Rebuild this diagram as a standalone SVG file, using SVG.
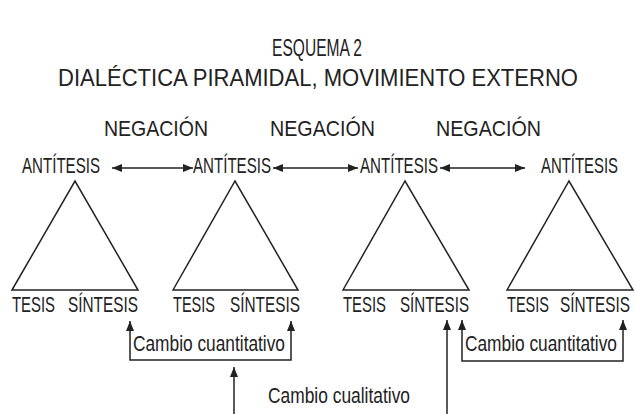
<svg xmlns="http://www.w3.org/2000/svg" width="635" height="414" viewBox="0 0 635 414">
<style>
text{font-family:"Liberation Sans",Arial,sans-serif;fill:#222;font-size:22px}
.t{font-size:24px}
.tri{fill:none;stroke:#222;stroke-width:1.5}
.c{fill:none;stroke:#222;stroke-width:1.5}
</style>
<defs>
<marker id="ah" viewBox="0 0 10 8" refX="10" refY="4" markerWidth="10" markerHeight="8" markerUnits="userSpaceOnUse" orient="auto-start-reverse">
<path d="M0,0 L10,4 L0,8 z" fill="#222"/>
</marker>
</defs>
<rect width="635" height="414" fill="#fff"/>
<g id="title">
<text class="t" x="317" y="56" text-anchor="middle" textLength="90" lengthAdjust="spacingAndGlyphs">ESQUEMA 2</text>
<text class="t" x="318" y="86" text-anchor="middle" textLength="520" lengthAdjust="spacingAndGlyphs">DIALÉCTICA PIRAMIDAL, MOVIMIENTO EXTERNO</text>
</g>
<g id="negaciones">
<text x="104" y="136" textLength="104" lengthAdjust="spacingAndGlyphs">NEGACIÓN</text>
<text x="270" y="136" textLength="105" lengthAdjust="spacingAndGlyphs">NEGACIÓN</text>
<text x="436" y="136" textLength="105" lengthAdjust="spacingAndGlyphs">NEGACIÓN</text>
</g>
<g id="piramide1">
<text x="22" y="173" textLength="78" lengthAdjust="spacingAndGlyphs">ANTÍTESIS</text>
<polygon class="tri" points="12,290 75,181 138,290"/>
<text x="12" y="312" textLength="43" lengthAdjust="spacingAndGlyphs">TESIS</text>
<text x="68" y="312" textLength="70" lengthAdjust="spacingAndGlyphs">SÍNTESIS</text>
</g>
<g id="piramide2">
<text x="193" y="173" textLength="78" lengthAdjust="spacingAndGlyphs">ANTÍTESIS</text>
<polygon class="tri" points="173,290 235,181 298,290"/>
<text x="173" y="312" textLength="42" lengthAdjust="spacingAndGlyphs">TESIS</text>
<text x="230" y="312" textLength="70" lengthAdjust="spacingAndGlyphs">SÍNTESIS</text>
</g>
<g id="piramide3">
<text x="360" y="173" textLength="78" lengthAdjust="spacingAndGlyphs">ANTÍTESIS</text>
<polygon class="tri" points="343,290 405,181 469,290"/>
<text x="343" y="312" textLength="43" lengthAdjust="spacingAndGlyphs">TESIS</text>
<text x="400" y="312" textLength="69" lengthAdjust="spacingAndGlyphs">SÍNTESIS</text>
</g>
<g id="piramide4">
<text x="541" y="173" textLength="77" lengthAdjust="spacingAndGlyphs">ANTÍTESIS</text>
<polygon class="tri" points="507,290 569,181 633,290"/>
<text x="507" y="312" textLength="42" lengthAdjust="spacingAndGlyphs">TESIS</text>
<text x="560" y="312" textLength="70" lengthAdjust="spacingAndGlyphs">SÍNTESIS</text>
</g>
<g id="etiquetas">
<text x="133" y="351" textLength="152" lengthAdjust="spacingAndGlyphs">Cambio cuantitativo</text>
<text x="465" y="351" textLength="152" lengthAdjust="spacingAndGlyphs">Cambio cuantitativo</text>
<text x="268" y="403" textLength="142" lengthAdjust="spacingAndGlyphs">Cambio cualitativo</text>
</g>
<g id="conectores">
<line class="c" x1="112" y1="168" x2="193" y2="168" marker-start="url(#ah)" marker-end="url(#ah)"/>
<line class="c" x1="273" y1="168" x2="358" y2="168" marker-start="url(#ah)" marker-end="url(#ah)"/>
<line class="c" x1="440" y1="168" x2="525" y2="168" marker-start="url(#ah)" marker-end="url(#ah)"/>
<polyline class="c" points="130,321 130,360 291,360 291,321" marker-start="url(#ah)" marker-end="url(#ah)"/>
<polyline class="c" points="462,320 462,361 623,361 623,320" marker-start="url(#ah)" marker-end="url(#ah)"/>
<line class="c" x1="234" y1="414" x2="234" y2="367" marker-end="url(#ah)"/>
<line class="c" x1="447" y1="414" x2="447" y2="320" marker-end="url(#ah)"/>
</g>
</svg>
